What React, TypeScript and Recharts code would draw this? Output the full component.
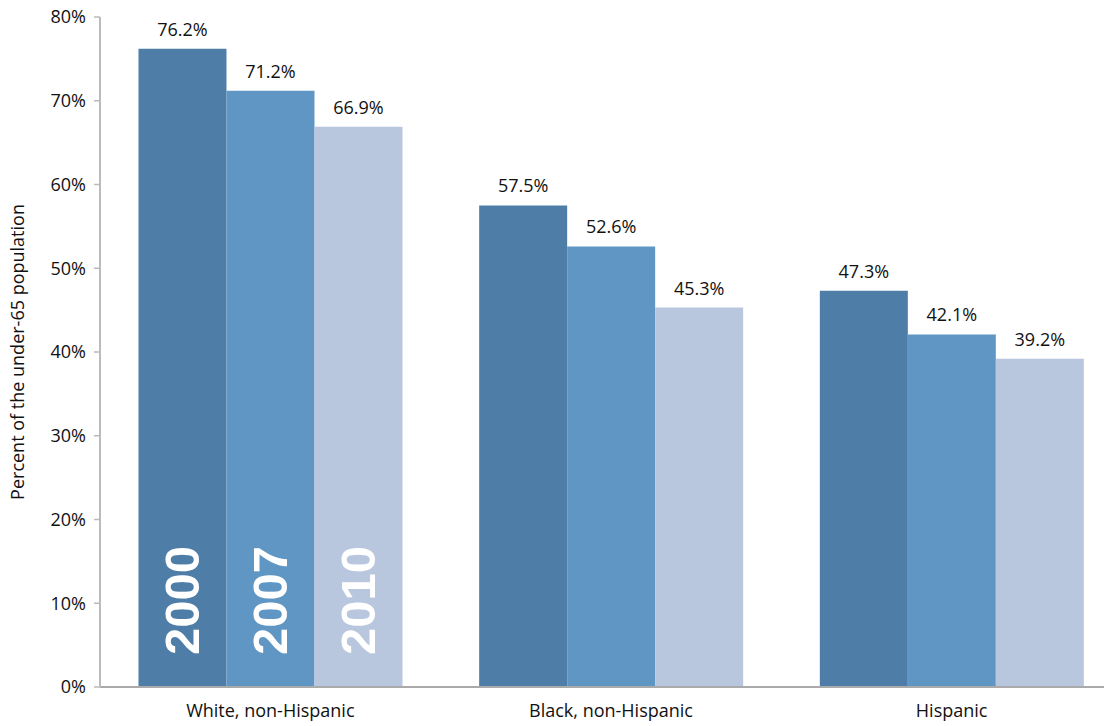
import React from "react";
import { BarChart, Bar, XAxis, YAxis, LabelList } from "recharts";

const categories = ["White, non-Hispanic", "Black, non-Hispanic", "Hispanic"];
const years = ["2000", "2007", "2010"];
const values2000 = [76.2, 57.5, 47.3];
const values2007 = [71.2, 52.6, 42.1];
const values2010 = [66.9, 45.3, 39.2];
const yTicks = [0, 10, 20, 30, 40, 50, 60, 70, 80];
const colors = ["#4e7ea8", "#5f96c4", "#b8c7de"];

const data = categories.map((c, i) => ({
  name: c,
  y2000: values2000[i],
  y2007: values2007[i],
  y2010: values2010[i],
}));

const FONT = "'Open Sans', 'DejaVu Sans', sans-serif";
const FS = 18;

const makeYearLabel = (year: string) => (props: any) => {
  const { x, y, width, height, index } = props;
  if (index !== 0) return null;
  const cx = x + width / 2;
  const bottom = y + height - 32;
  return (
    <text
      x={cx}
      y={bottom}
      transform={`rotate(-90 ${cx} ${bottom})`}
      textAnchor="start"
      dominantBaseline="central"
      fill="#ffffff"
      fontFamily="'Liberation Sans', Arial, sans-serif"
      fontWeight="bold"
      fontSize={49}
    >
      {year}
    </text>
  );
};

const valueLabel = (props: any) => {
  const { x, y, width, value } = props;
  return (
    <text
      x={x + width / 2}
      y={y - 13}
      textAnchor="middle"
      fill="#111"
      fontFamily={FONT}
      fontSize={FS}
    >
      {`${Number(value).toFixed(1)}%`}
    </text>
  );
};

export default function App() {
  const keys = ["y2000", "y2007", "y2010"];
  return (
    <div
      style={{
        margin: "-8px 0 0 -8px",
        width: 1112,
        height: 726,
        overflow: "hidden",
        position: "relative",
      }}
    >
      <BarChart
        width={1138}
        height={726}
        data={data}
        margin={{ top: 17, right: 16, bottom: 0, left: 0 }}
        barCategoryGap="11.3%"
        barGap={0}
      >
        <XAxis
          dataKey="name"
          height={39}
          axisLine={{ stroke: "#aaaaaa", strokeWidth: 2 }}
          tickLine={false}
          tick={{ fill: "#111", fontSize: FS, fontFamily: FONT }}
          tickMargin={11}
        />
        <YAxis
          width={100}
          domain={[0, 80]}
          ticks={yTicks}
          tickFormatter={(v: number) => `${v}%`}
          axisLine={{ stroke: "#bbbbbb", strokeWidth: 2 }}
          tickLine={{ stroke: "#bbbbbb", strokeWidth: 1.5 }}
          tickSize={6}
          tick={{ fill: "#111", fontSize: FS, fontFamily: FONT }}
          tickMargin={8}
          label={{
            value: "Percent of the under-65 population",
            angle: -90,
            position: "insideLeft",
            dx: 13,
            style: { textAnchor: "middle", fill: "#111", fontSize: FS, fontFamily: FONT },
          }}
        />
        {keys.map((k, i) => (
          <Bar key={k} dataKey={k} fill={colors[i]} isAnimationActive={false}>
            <LabelList dataKey={k} content={valueLabel} />
            <LabelList dataKey={k} content={makeYearLabel(years[i])} />
          </Bar>
        ))}
      </BarChart>
    </div>
  );
}
